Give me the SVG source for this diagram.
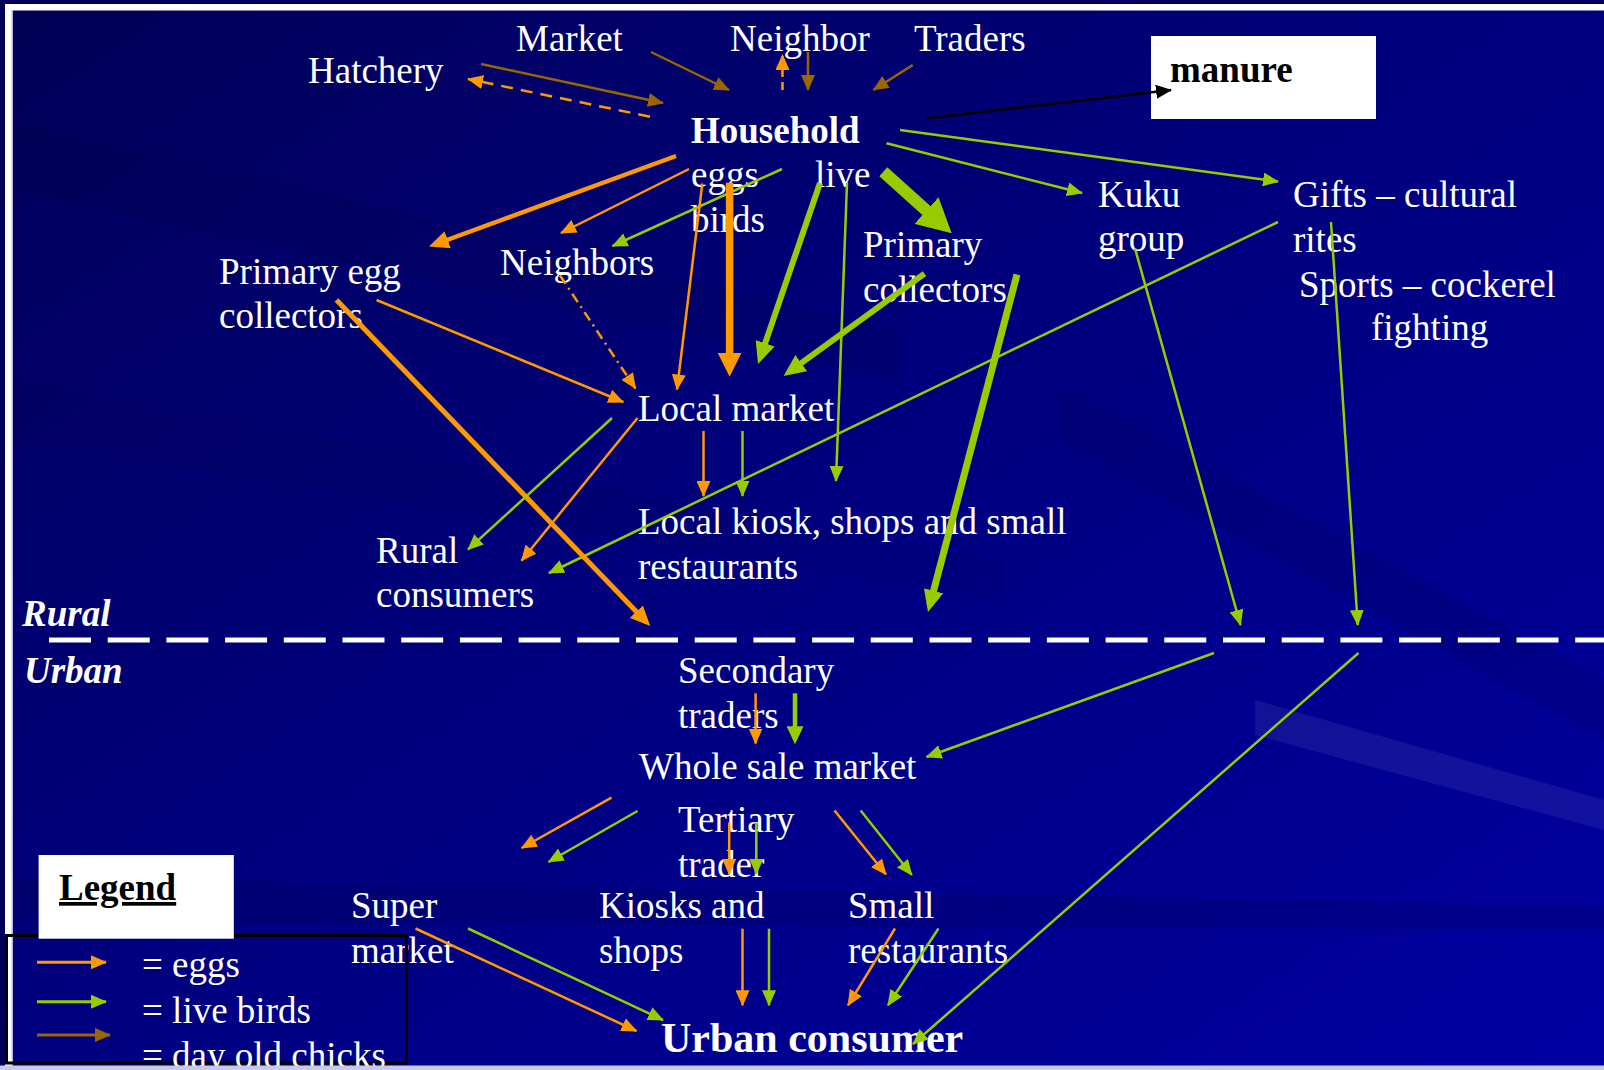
<svg xmlns="http://www.w3.org/2000/svg" width="1604" height="1070" viewBox="0 0 1604 1070">
<style>
.t{font-family:"Liberation Serif","Times New Roman",serif;font-size:37px;fill:#ffffff}
.b{font-weight:bold}
.bi{font-weight:bold;font-style:italic}
.k{fill:#000000}
.o{stroke:#FF9900;fill:none}
.g{stroke:#99CC00;fill:none}
.br{stroke:#996600;fill:none}
.bk{stroke:#000000;fill:none}
#connectors line{stroke-width:2.5}
#connectors line.w45{stroke-width:4.5}
#connectors line.w5{stroke-width:5}
#connectors line.w6{stroke-width:6}
#connectors line.w7{stroke-width:7}
#connectors line.w75{stroke-width:7.5}
#connectors line.w12{stroke-width:12}
</style>
<defs>
<linearGradient id="bg" x1="0" y1="0" x2="1" y2="1">
<stop offset="0" stop-color="#000058"/>
<stop offset="0.5" stop-color="#000080"/>
<stop offset="1" stop-color="#0000a2"/>
</linearGradient>
<marker id="aO" markerUnits="userSpaceOnUse" markerWidth="16" markerHeight="14" refX="15" refY="7" orient="auto"><path d="M0,0 L16,7 L0,14 z" fill="#FF9900"/></marker>
<marker id="aG" markerUnits="userSpaceOnUse" markerWidth="16" markerHeight="14" refX="15" refY="7" orient="auto"><path d="M0,0 L16,7 L0,14 z" fill="#99CC00"/></marker>
<marker id="aB" markerUnits="userSpaceOnUse" markerWidth="16" markerHeight="14" refX="15" refY="7" orient="auto"><path d="M0,0 L16,7 L0,14 z" fill="#996600"/></marker>
<marker id="aK" markerUnits="userSpaceOnUse" markerWidth="16" markerHeight="14" refX="15" refY="7" orient="auto"><path d="M0,0 L16,7 L0,14 z" fill="#000000"/></marker>
<marker id="mO" markerUnits="userSpaceOnUse" markerWidth="20" markerHeight="18" refX="14" refY="9" orient="auto"><path d="M0,0 L20,9 L0,18 z" fill="#FF9900"/></marker>
<marker id="mG" markerUnits="userSpaceOnUse" markerWidth="22" markerHeight="20" refX="15" refY="10" orient="auto"><path d="M0,0 L22,10 L0,20 z" fill="#99CC00"/></marker>
<marker id="sG" markerUnits="userSpaceOnUse" markerWidth="18" markerHeight="17" refX="13" refY="8.5" orient="auto"><path d="M0,0 L18,8.5 L0,17 z" fill="#99CC00"/></marker>
<marker id="hO" markerUnits="userSpaceOnUse" markerWidth="24" markerHeight="24" refX="16" refY="12" orient="auto"><path d="M0,0 L24,12 L0,24 z" fill="#FF9900"/></marker>
<marker id="hG" markerUnits="userSpaceOnUse" markerWidth="34" markerHeight="36" refX="22" refY="18" orient="auto"><path d="M0,0 L34,18 L0,36 z" fill="#99CC00"/></marker>
</defs>

<g id="background">
<rect x="0" y="0" width="1604" height="1070" fill="#00005a"/>
<rect x="12" y="10" width="1592" height="1056" fill="url(#bg)"/>
<polygon points="12,120 900,330 900,380 12,190" fill="#000040" opacity="0.15"/>
<polygon points="12,380 1000,560 1000,600 12,440" fill="#000040" opacity="0.1"/>
<polygon points="1255,700 1604,800 1604,830 1255,735" fill="#ffffff" opacity="0.07"/>
<polygon points="1060,385 1604,680 1604,740 1060,440" fill="#000040" opacity="0.15"/>
<polygon points="12,878 1604,905 1604,930 12,922" fill="#000040" opacity="0.18"/>
<rect x="5" y="4" width="1599" height="6.5" fill="#ffffff"/>
<rect x="5" y="4" width="7" height="1066" fill="#ffffff"/>
<rect x="11.5" y="10" width="1.5" height="1056" fill="#b8b8e0"/>
</g>

<g id="node-hatchery"><text class="t" x="308" y="83">Hatchery</text></g>
<g id="node-market"><text class="t" x="516" y="51">Market</text></g>
<g id="node-neighbor"><text class="t" x="730" y="51">Neighbor</text></g>
<g id="node-traders"><text class="t" x="914" y="51">Traders</text></g>
<g id="node-manure"><rect x="1151" y="36" width="225" height="83" fill="#ffffff"/><text class="t b k" x="1170" y="82">manure</text></g>
<g id="node-household"><text class="t b" x="691" y="143">Household</text></g>
<g id="node-eggs-live-birds"><text class="t" x="691" y="187">eggs</text><text class="t" x="815" y="187">live</text><text class="t" x="691" y="232">birds</text></g>
<g id="node-primary-egg-collectors"><text class="t" x="219" y="284">Primary egg</text><text class="t" x="219" y="328">collectors</text></g>
<g id="node-neighbors"><text class="t" x="500" y="275">Neighbors</text></g>
<g id="node-primary-collectors"><text class="t" x="863" y="257">Primary</text><text class="t" x="863" y="302">collectors</text></g>
<g id="node-kuku-group"><text class="t" x="1098" y="207">Kuku</text><text class="t" x="1098" y="251">group</text></g>
<g id="node-gifts"><text class="t" x="1293" y="207">Gifts – cultural</text><text class="t" x="1293" y="252">rites</text></g>
<g id="node-sports"><text class="t" x="1299" y="297">Sports – cockerel</text><text class="t" x="1371" y="340">fighting</text></g>
<g id="node-local-market"><text class="t" x="638" y="421">Local market</text></g>
<g id="node-local-kiosk"><text class="t" x="638" y="534">Local kiosk, shops and small</text><text class="t" x="638" y="579">restaurants</text></g>
<g id="node-rural-consumers"><text class="t" x="376" y="563">Rural</text><text class="t" x="376" y="607">consumers</text></g>
<g id="zone-labels"><text class="t bi" x="22" y="626">Rural</text><text class="t bi" x="24" y="683">Urban</text>
<line x1="49" y1="640" x2="1604" y2="640" stroke="#ffffff" stroke-width="5" stroke-dasharray="42 16.7"/></g>
<g id="node-secondary-traders"><text class="t" x="678" y="683">Secondary</text><text class="t" x="678" y="728">traders</text></g>
<g id="node-wholesale"><text class="t" x="639" y="779">Whole sale market</text></g>
<g id="node-tertiary"><text class="t" x="678" y="832">Tertiary</text><text class="t" x="678" y="877">trader</text></g>
<g id="node-supermarket"><text class="t" x="351" y="918">Super</text><text class="t" x="351" y="963">market</text></g>
<g id="node-kiosks"><text class="t" x="599" y="918">Kiosks and</text><text class="t" x="599" y="963">shops</text></g>
<g id="node-small-restaurants"><text class="t" x="848" y="918">Small</text><text class="t" x="848" y="963">restaurants</text></g>
<g id="node-urban-consumer"><text class="t b" x="661" y="1052" style="font-size:42px">Urban consumer</text></g>

<g id="connectors">
<line class="br" x1="481" y1="64" x2="663" y2="103" marker-end="url(#aB)"/>
<line class="o" x1="650" y1="116.7" x2="468" y2="79" stroke-dasharray="12 8" marker-end="url(#aO)"/>
<line class="br" x1="651" y1="52" x2="729" y2="90" marker-end="url(#aB)"/>
<line class="o" x1="782.5" y1="90" x2="782.5" y2="55" stroke-dasharray="8 5" marker-end="url(#aO)"/>
<line class="br" x1="808" y1="52" x2="808" y2="90" marker-end="url(#aB)"/>
<line class="br" x1="912.7" y1="65" x2="873.4" y2="90" marker-end="url(#aB)"/>
<line class="bk" x1="927" y1="118.3" x2="1171" y2="90" marker-end="url(#aK)"/>
<line class="g" x1="900" y1="130" x2="1278" y2="181.5" marker-end="url(#aG)"/>
<line class="g" x1="886.5" y1="143.2" x2="1082" y2="193" marker-end="url(#aG)"/>
<line class="o w45" x1="676" y1="156" x2="434.6" y2="244.5" marker-end="url(#mO)"/>
<line class="o" x1="689" y1="169" x2="561" y2="233" marker-end="url(#aO)"/>
<line class="g" x1="782" y1="169" x2="612.5" y2="246" marker-end="url(#aG)"/>
<line class="o" x1="702.3" y1="183.5" x2="677" y2="389.5" marker-end="url(#aO)"/>
<line class="o w75" x1="729.6" y1="182.7" x2="729.6" y2="368.7" marker-end="url(#hO)"/>
<line class="g w6" x1="820" y1="183" x2="760.3" y2="357.4" marker-end="url(#mG)"/>
<line class="g" x1="847" y1="183" x2="836" y2="481" marker-end="url(#aG)"/>
<line class="g w12" x1="883.3" y1="171.7" x2="942.8" y2="225.3" marker-end="url(#hG)"/>
<line class="g w6" x1="924.5" y1="273.6" x2="789.2" y2="371.9" marker-end="url(#mG)"/>
<line class="g w7" x1="1017" y1="274.5" x2="929.8" y2="605.2" marker-end="url(#mG)"/>
<line class="g" x1="1278" y1="222" x2="549" y2="573" marker-end="url(#aG)"/>
<line class="g" x1="1135" y1="248.5" x2="1240.5" y2="625" marker-end="url(#aG)"/>
<line class="g" x1="1331" y1="222" x2="1357.8" y2="625" marker-end="url(#aG)"/>
<line class="o" x1="376.5" y1="300" x2="623.3" y2="402" marker-end="url(#aO)"/>
<line class="o" x1="560" y1="275.5" x2="635.5" y2="388.5" stroke-dasharray="10 5 2 5" marker-end="url(#aO)"/>
<line class="o w5" x1="336.5" y1="300" x2="646.1" y2="621.7" marker-end="url(#mO)"/>
<line class="g" x1="612" y1="418" x2="468" y2="549.5" marker-end="url(#aG)"/>
<line class="o" x1="637.5" y1="418" x2="521.5" y2="560.7" marker-end="url(#aO)"/>
<line class="o" x1="703.5" y1="431" x2="703.5" y2="496" marker-end="url(#aO)"/>
<line class="g" x1="742.5" y1="431" x2="742.5" y2="496" marker-end="url(#aG)"/>
<line class="o" x1="755.6" y1="693.3" x2="755.6" y2="743.5" marker-end="url(#aO)"/>
<line class="g w45" x1="795" y1="693.3" x2="795" y2="739.3" marker-end="url(#sG)"/>
<line class="g" x1="1214" y1="653" x2="926.5" y2="757" marker-end="url(#aG)"/>
<line class="g" x1="1358.5" y1="653" x2="913" y2="1044" marker-end="url(#aG)"/>
<line class="o" x1="611.5" y1="797.6" x2="521.7" y2="848" marker-end="url(#aO)"/>
<line class="g" x1="637.5" y1="811" x2="548.5" y2="862" marker-end="url(#aG)"/>
<line class="o" x1="729.2" y1="822.5" x2="729.2" y2="874" marker-end="url(#aO)"/>
<line class="g" x1="756.3" y1="822.5" x2="756.3" y2="874" marker-end="url(#aG)"/>
<line class="o" x1="834.5" y1="810.5" x2="886" y2="874.5" marker-end="url(#aO)"/>
<line class="g" x1="860.7" y1="810.5" x2="911.8" y2="875" marker-end="url(#aG)"/>
<line class="o" x1="742.5" y1="928.7" x2="742.5" y2="1005.3" marker-end="url(#aO)"/>
<line class="g" x1="769" y1="928.7" x2="769" y2="1005.3" marker-end="url(#aG)"/>
<line class="o" x1="895" y1="928.5" x2="848" y2="1005.3" marker-end="url(#aO)"/>
<line class="g" x1="938.5" y1="928.5" x2="888" y2="1005.3" marker-end="url(#aG)"/>
<line class="o" x1="415.5" y1="928.5" x2="636.5" y2="1031" marker-end="url(#aO)"/>
<line class="g" x1="468" y1="928.5" x2="663" y2="1020" marker-end="url(#aG)"/>
</g>

<g id="legend">
<rect x="6.5" y="935.5" width="400" height="127.5" fill="none" stroke="#000000" stroke-width="3"/>
<rect x="38.6" y="855" width="195.2" height="83.7" fill="#ffffff"/>
<text class="t b k" x="59" y="900" text-decoration="underline">Legend</text>
<line x1="37" y1="962.3" x2="106" y2="962.3" stroke="#FF9900" stroke-width="3" marker-end="url(#aO)"/>
<line x1="37" y1="1001.7" x2="106" y2="1001.7" stroke="#99CC00" stroke-width="3" marker-end="url(#aG)"/>
<line x1="37" y1="1035" x2="110" y2="1035" stroke="#996600" stroke-width="3" marker-end="url(#aB)"/>
<text class="t" x="142" y="977">= eggs</text>
<text class="t" x="142" y="1023">= live birds</text>
<text class="t" x="142" y="1068">= day old chicks</text>
</g>
<rect id="bottom-edge" x="0" y="1065.5" width="1604" height="4.5" fill="#c8c8e8"/>
</svg>
